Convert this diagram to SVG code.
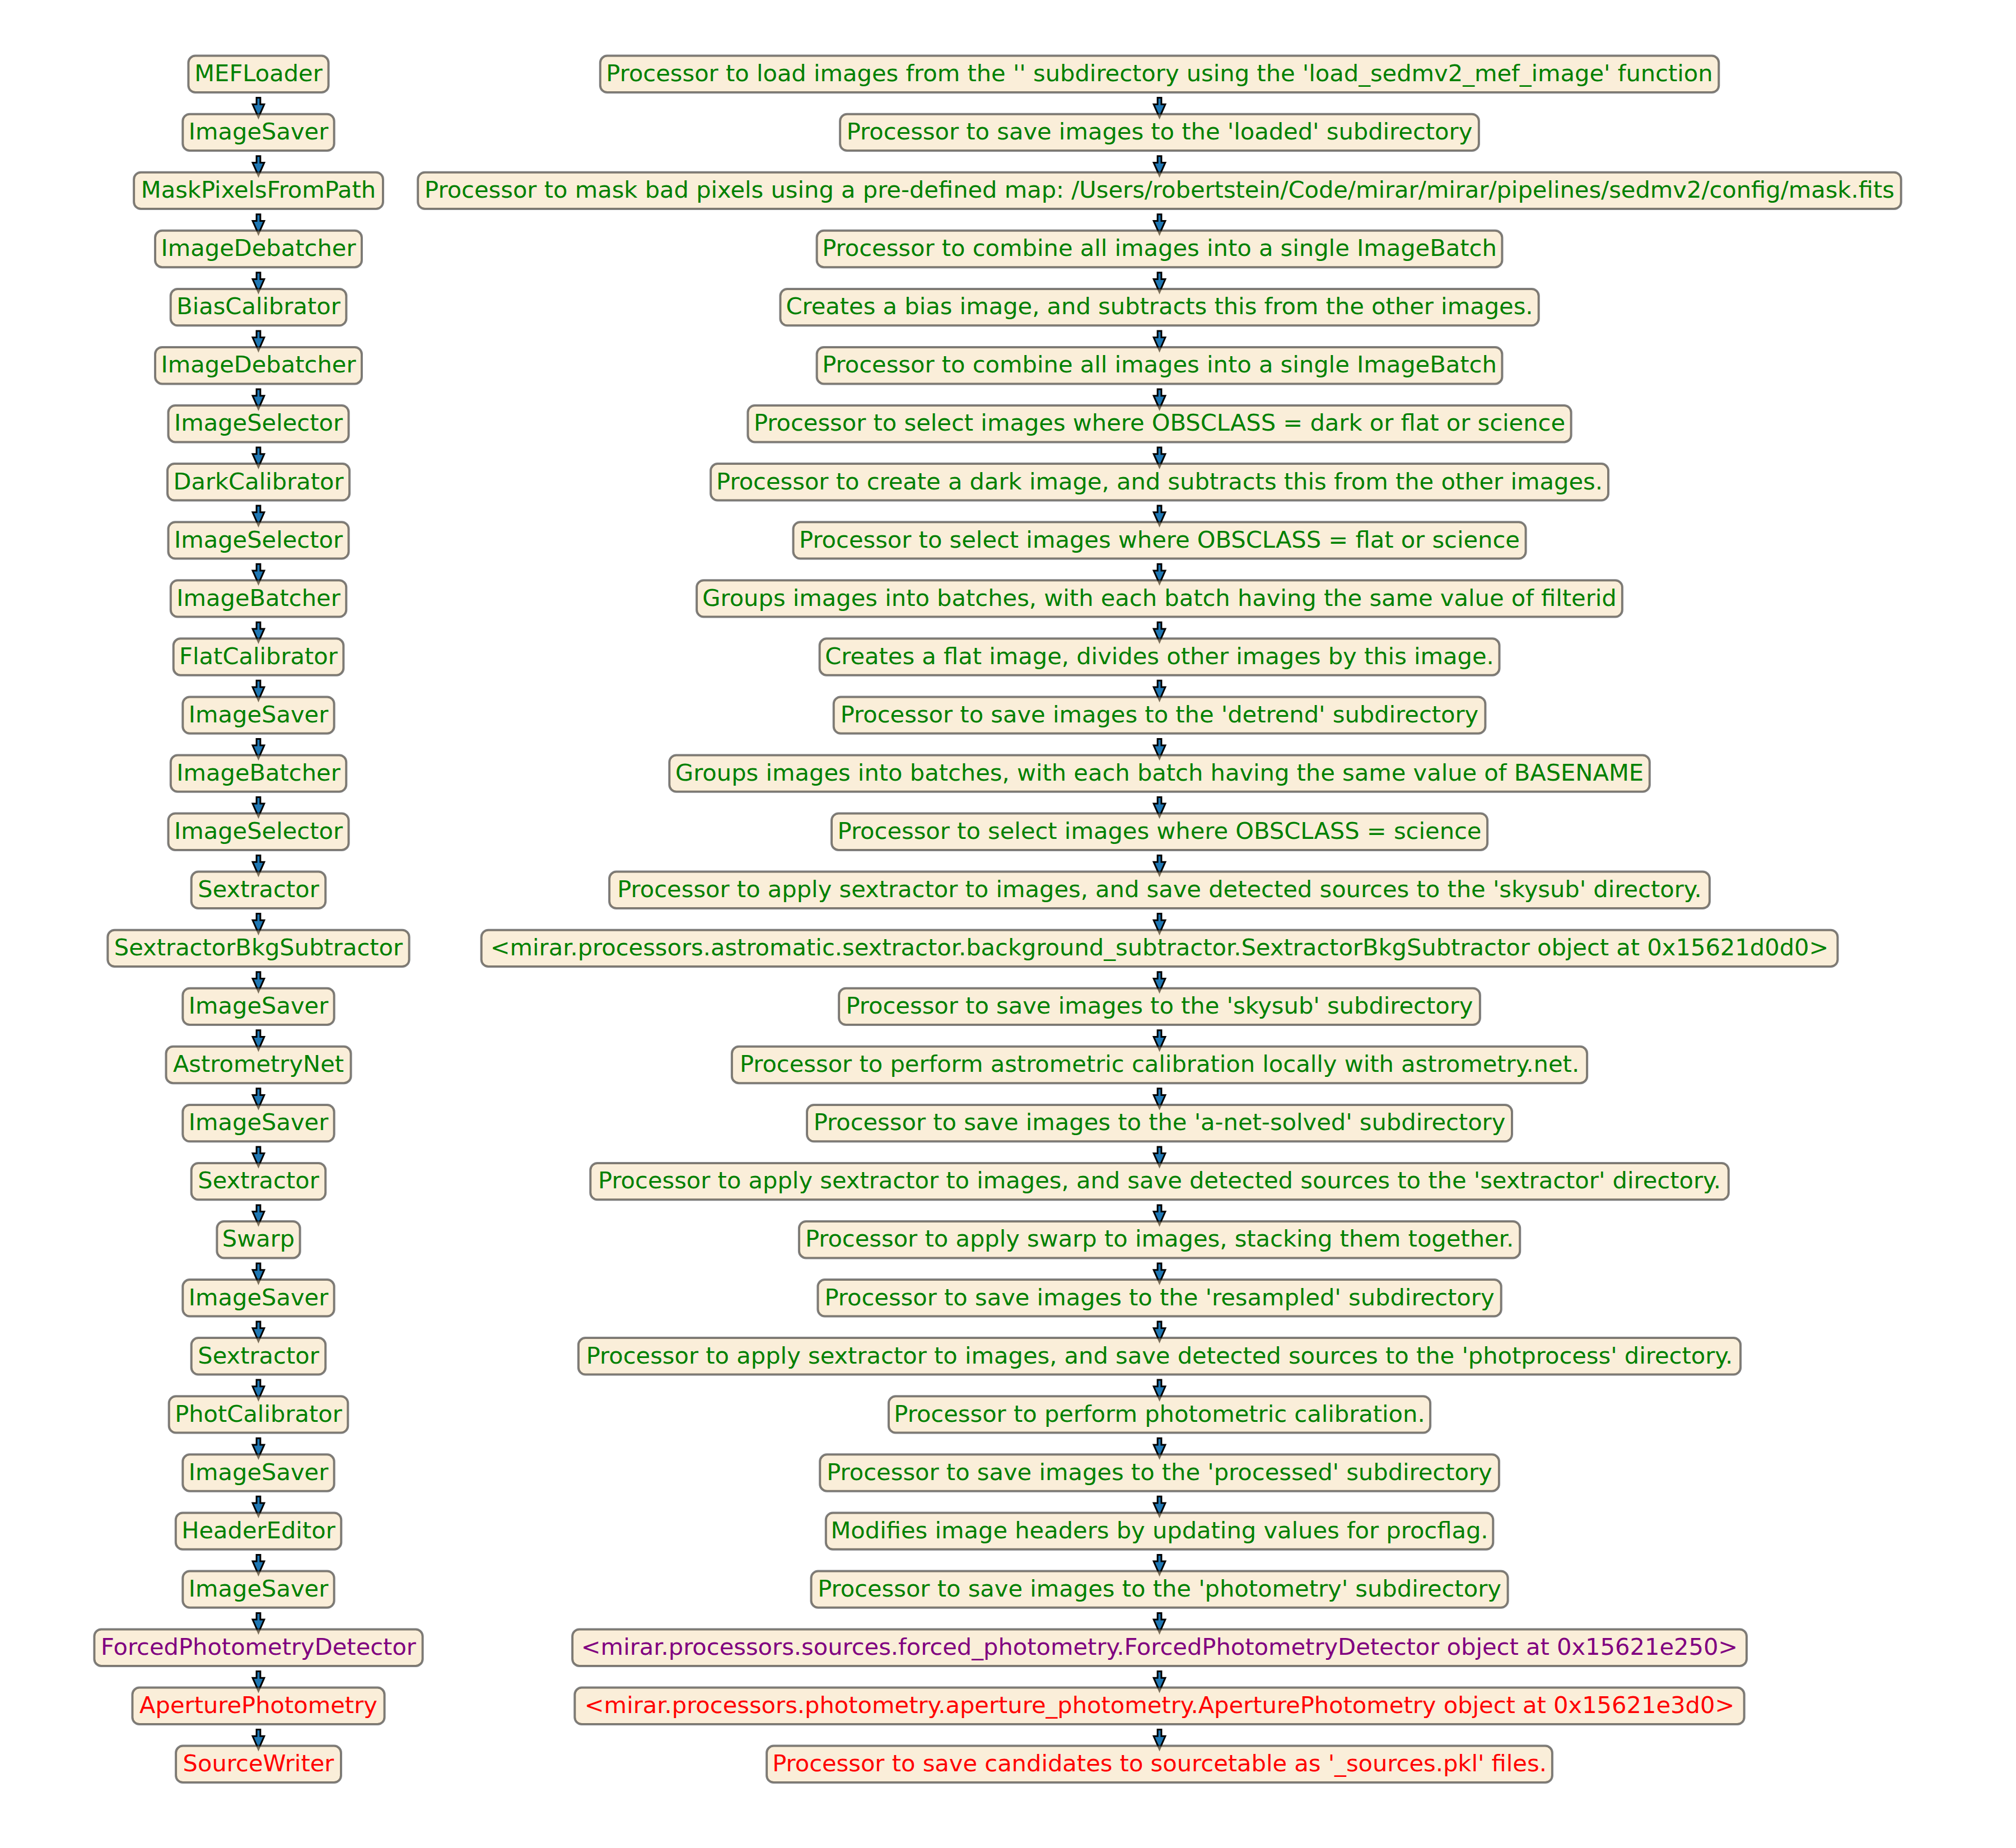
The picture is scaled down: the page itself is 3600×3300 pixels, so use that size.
<svg xmlns="http://www.w3.org/2000/svg" width="3600" height="3300" viewBox="0 0 3600 3300">
  <style>
    .box { fill: #f5deb3; fill-opacity: 0.5; stroke: #000000; stroke-opacity: 0.5; stroke-width: 4; }
    .lbl { font-family: "DejaVu Sans", "Noto Sans", sans-serif; font-size: 41.6px; text-anchor: middle; }
    .g { fill: #008000; }
    .p { fill: #800080; }
    .r { fill: #ff0000; }
    .arr { fill: #1f77b4; stroke: #000000; stroke-width: 3; stroke-linejoin: miter; }
  </style>
  <defs>
    <!-- downward block arrow, origin at the centre of the upper box -->
    <path id="arr" class="arr" d="M -3.4 42.3 L 3.4 42.3 L 3.4 54 L 10.4 54 L 0 77.5 L -10.4 54 L -3.4 54 Z"/>
  </defs>
  <rect width="3600" height="3300" fill="#ffffff"/>

  <!-- step connectors: class column (x=461.5) and description column (x=2070.5) -->
  <g id="connectors">
    <use href="#arr" x="461.5" y="132.3"/><use href="#arr" x="2070.5" y="132.3"/>
    <use href="#arr" x="461.5" y="236.4"/><use href="#arr" x="2070.5" y="236.4"/>
    <use href="#arr" x="461.5" y="340.4"/><use href="#arr" x="2070.5" y="340.4"/>
    <use href="#arr" x="461.5" y="444.5"/><use href="#arr" x="2070.5" y="444.5"/>
    <use href="#arr" x="461.5" y="548.6"/><use href="#arr" x="2070.5" y="548.6"/>
    <use href="#arr" x="461.5" y="652.7"/><use href="#arr" x="2070.5" y="652.7"/>
    <use href="#arr" x="461.5" y="756.7"/><use href="#arr" x="2070.5" y="756.7"/>
    <use href="#arr" x="461.5" y="860.8"/><use href="#arr" x="2070.5" y="860.8"/>
    <use href="#arr" x="461.5" y="964.9"/><use href="#arr" x="2070.5" y="964.9"/>
    <use href="#arr" x="461.5" y="1068.9"/><use href="#arr" x="2070.5" y="1068.9"/>
    <use href="#arr" x="461.5" y="1173.0"/><use href="#arr" x="2070.5" y="1173.0"/>
    <use href="#arr" x="461.5" y="1277.1"/><use href="#arr" x="2070.5" y="1277.1"/>
    <use href="#arr" x="461.5" y="1381.1"/><use href="#arr" x="2070.5" y="1381.1"/>
    <use href="#arr" x="461.5" y="1485.2"/><use href="#arr" x="2070.5" y="1485.2"/>
    <use href="#arr" x="461.5" y="1589.3"/><use href="#arr" x="2070.5" y="1589.3"/>
    <use href="#arr" x="461.5" y="1693.4"/><use href="#arr" x="2070.5" y="1693.4"/>
    <use href="#arr" x="461.5" y="1797.4"/><use href="#arr" x="2070.5" y="1797.4"/>
    <use href="#arr" x="461.5" y="1901.5"/><use href="#arr" x="2070.5" y="1901.5"/>
    <use href="#arr" x="461.5" y="2005.6"/><use href="#arr" x="2070.5" y="2005.6"/>
    <use href="#arr" x="461.5" y="2109.6"/><use href="#arr" x="2070.5" y="2109.6"/>
    <use href="#arr" x="461.5" y="2213.7"/><use href="#arr" x="2070.5" y="2213.7"/>
    <use href="#arr" x="461.5" y="2317.8"/><use href="#arr" x="2070.5" y="2317.8"/>
    <use href="#arr" x="461.5" y="2421.8"/><use href="#arr" x="2070.5" y="2421.8"/>
    <use href="#arr" x="461.5" y="2525.9"/><use href="#arr" x="2070.5" y="2525.9"/>
    <use href="#arr" x="461.5" y="2630.0"/><use href="#arr" x="2070.5" y="2630.0"/>
    <use href="#arr" x="461.5" y="2734.1"/><use href="#arr" x="2070.5" y="2734.1"/>
    <use href="#arr" x="461.5" y="2838.1"/><use href="#arr" x="2070.5" y="2838.1"/>
    <use href="#arr" x="461.5" y="2942.2"/><use href="#arr" x="2070.5" y="2942.2"/>
    <use href="#arr" x="461.5" y="3046.3"/><use href="#arr" x="2070.5" y="3046.3"/>
  </g>

  <!-- processor class names -->
  <g id="nodes-class">
    <g id="c01" transform="translate(0,132.3)"><rect class="box" x="336.4" y="-32.7" width="250.2" height="65.4" rx="12.5"/><text class="lbl g" x="461.5" y="12.7">MEFLoader</text></g>
    <g id="c02" transform="translate(0,236.4)"><rect class="box" x="326.3" y="-32.7" width="270.4" height="65.4" rx="12.5"/><text class="lbl g" x="461.5" y="12.7">ImageSaver</text></g>
    <g id="c03" transform="translate(0,340.4)"><rect class="box" x="239.1" y="-32.7" width="444.9" height="65.4" rx="12.5"/><text class="lbl g" x="461.5" y="12.7">MaskPixelsFromPath</text></g>
    <g id="c04" transform="translate(0,444.5)"><rect class="box" x="277.0" y="-32.7" width="369.0" height="65.4" rx="12.5"/><text class="lbl g" x="461.5" y="12.7">ImageDebatcher</text></g>
    <g id="c05" transform="translate(0,548.6)"><rect class="box" x="304.7" y="-32.7" width="313.7" height="65.4" rx="12.5"/><text class="lbl g" x="461.5" y="12.7">BiasCalibrator</text></g>
    <g id="c06" transform="translate(0,652.7)"><rect class="box" x="277.0" y="-32.7" width="369.0" height="65.4" rx="12.5"/><text class="lbl g" x="461.5" y="12.7">ImageDebatcher</text></g>
    <g id="c07" transform="translate(0,756.7)"><rect class="box" x="300.5" y="-32.7" width="322.1" height="65.4" rx="12.5"/><text class="lbl g" x="461.5" y="12.7">ImageSelector</text></g>
    <g id="c08" transform="translate(0,860.8)"><rect class="box" x="299.0" y="-32.7" width="325.1" height="65.4" rx="12.5"/><text class="lbl g" x="461.5" y="12.7">DarkCalibrator</text></g>
    <g id="c09" transform="translate(0,964.9)"><rect class="box" x="300.5" y="-32.7" width="322.1" height="65.4" rx="12.5"/><text class="lbl g" x="461.5" y="12.7">ImageSelector</text></g>
    <g id="c10" transform="translate(0,1068.9)"><rect class="box" x="304.8" y="-32.7" width="313.5" height="65.4" rx="12.5"/><text class="lbl g" x="461.5" y="12.7">ImageBatcher</text></g>
    <g id="c11" transform="translate(0,1173.0)"><rect class="box" x="309.7" y="-32.7" width="303.7" height="65.4" rx="12.5"/><text class="lbl g" x="461.5" y="12.7">FlatCalibrator</text></g>
    <g id="c12" transform="translate(0,1277.1)"><rect class="box" x="326.3" y="-32.7" width="270.4" height="65.4" rx="12.5"/><text class="lbl g" x="461.5" y="12.7">ImageSaver</text></g>
    <g id="c13" transform="translate(0,1381.1)"><rect class="box" x="304.8" y="-32.7" width="313.5" height="65.4" rx="12.5"/><text class="lbl g" x="461.5" y="12.7">ImageBatcher</text></g>
    <g id="c14" transform="translate(0,1485.2)"><rect class="box" x="300.5" y="-32.7" width="322.1" height="65.4" rx="12.5"/><text class="lbl g" x="461.5" y="12.7">ImageSelector</text></g>
    <g id="c15" transform="translate(0,1589.3)"><rect class="box" x="341.7" y="-32.7" width="239.6" height="65.4" rx="12.5"/><text class="lbl g" x="461.5" y="12.7">Sextractor</text></g>
    <g id="c16" transform="translate(0,1693.4)"><rect class="box" x="192.3" y="-32.7" width="538.4" height="65.4" rx="12.5"/><text class="lbl g" x="461.5" y="12.7">SextractorBkgSubtractor</text></g>
    <g id="c17" transform="translate(0,1797.4)"><rect class="box" x="326.3" y="-32.7" width="270.4" height="65.4" rx="12.5"/><text class="lbl g" x="461.5" y="12.7">ImageSaver</text></g>
    <g id="c18" transform="translate(0,1901.5)"><rect class="box" x="296.5" y="-32.7" width="330.1" height="65.4" rx="12.5"/><text class="lbl g" x="461.5" y="12.7">AstrometryNet</text></g>
    <g id="c19" transform="translate(0,2005.6)"><rect class="box" x="326.3" y="-32.7" width="270.4" height="65.4" rx="12.5"/><text class="lbl g" x="461.5" y="12.7">ImageSaver</text></g>
    <g id="c20" transform="translate(0,2109.6)"><rect class="box" x="341.7" y="-32.7" width="239.6" height="65.4" rx="12.5"/><text class="lbl g" x="461.5" y="12.7">Sextractor</text></g>
    <g id="c21" transform="translate(0,2213.7)"><rect class="box" x="387.4" y="-32.7" width="148.3" height="65.4" rx="12.5"/><text class="lbl g" x="461.5" y="12.7">Swarp</text></g>
    <g id="c22" transform="translate(0,2317.8)"><rect class="box" x="326.3" y="-32.7" width="270.4" height="65.4" rx="12.5"/><text class="lbl g" x="461.5" y="12.7">ImageSaver</text></g>
    <g id="c23" transform="translate(0,2421.8)"><rect class="box" x="341.7" y="-32.7" width="239.6" height="65.4" rx="12.5"/><text class="lbl g" x="461.5" y="12.7">Sextractor</text></g>
    <g id="c24" transform="translate(0,2525.9)"><rect class="box" x="301.7" y="-32.7" width="319.6" height="65.4" rx="12.5"/><text class="lbl g" x="461.5" y="12.7">PhotCalibrator</text></g>
    <g id="c25" transform="translate(0,2630.0)"><rect class="box" x="326.3" y="-32.7" width="270.4" height="65.4" rx="12.5"/><text class="lbl g" x="461.5" y="12.7">ImageSaver</text></g>
    <g id="c26" transform="translate(0,2734.1)"><rect class="box" x="313.8" y="-32.7" width="295.5" height="65.4" rx="12.5"/><text class="lbl g" x="461.5" y="12.7">HeaderEditor</text></g>
    <g id="c27" transform="translate(0,2838.1)"><rect class="box" x="326.3" y="-32.7" width="270.4" height="65.4" rx="12.5"/><text class="lbl g" x="461.5" y="12.7">ImageSaver</text></g>
    <g id="c28" transform="translate(0,2942.2)"><rect class="box" x="168.4" y="-32.7" width="586.3" height="65.4" rx="12.5"/><text class="lbl p" x="461.5" y="12.7">ForcedPhotometryDetector</text></g>
    <g id="c29" transform="translate(0,3046.3)"><rect class="box" x="236.4" y="-32.7" width="450.2" height="65.4" rx="12.5"/><text class="lbl r" x="461.5" y="12.7">AperturePhotometry</text></g>
    <g id="c30" transform="translate(0,3150.3)"><rect class="box" x="314.1" y="-32.7" width="294.9" height="65.4" rx="12.5"/><text class="lbl r" x="461.5" y="12.7">SourceWriter</text></g>
  </g>

  <!-- processor descriptions -->
  <g id="nodes-description">
    <g id="d01" transform="translate(0,132.3)"><rect class="box" x="1071.8" y="-32.7" width="1997.5" height="65.4" rx="12.5"/><text class="lbl g" x="2070.5" y="12.7">Processor to load images from the '' subdirectory using the 'load_sedmv2_mef_image' function</text></g>
    <g id="d02" transform="translate(0,236.4)"><rect class="box" x="1500.1" y="-32.7" width="1140.8" height="65.4" rx="12.5"/><text class="lbl g" x="2070.5" y="12.7">Processor to save images to the 'loaded' subdirectory</text></g>
    <g id="d03" transform="translate(0,340.4)"><rect class="box" x="746.2" y="-32.7" width="2648.6" height="65.4" rx="12.5"/><text class="lbl g" x="2070.5" y="12.7">Processor to mask bad pixels using a pre-defined map: /Users/robertstein/Code/mirar/mirar/pipelines/sedmv2/config/mask.fits</text></g>
    <g id="d04" transform="translate(0,444.5)"><rect class="box" x="1458.6" y="-32.7" width="1223.8" height="65.4" rx="12.5"/><text class="lbl g" x="2070.5" y="12.7">Processor to combine all images into a single ImageBatch</text></g>
    <g id="d05" transform="translate(0,548.6)"><rect class="box" x="1393.4" y="-32.7" width="1354.3" height="65.4" rx="12.5"/><text class="lbl g" x="2070.5" y="12.7">Creates a bias image, and subtracts this from the other images.</text></g>
    <g id="d06" transform="translate(0,652.7)"><rect class="box" x="1458.6" y="-32.7" width="1223.8" height="65.4" rx="12.5"/><text class="lbl g" x="2070.5" y="12.7">Processor to combine all images into a single ImageBatch</text></g>
    <g id="d07" transform="translate(0,756.7)"><rect class="box" x="1335.4" y="-32.7" width="1470.2" height="65.4" rx="12.5"/><text class="lbl g" x="2070.5" y="12.7">Processor to select images where OBSCLASS = dark or flat or science</text></g>
    <g id="d08" transform="translate(0,860.8)"><rect class="box" x="1269.1" y="-32.7" width="1602.9" height="65.4" rx="12.5"/><text class="lbl g" x="2070.5" y="12.7">Processor to create a dark image, and subtracts this from the other images.</text></g>
    <g id="d09" transform="translate(0,964.9)"><rect class="box" x="1416.5" y="-32.7" width="1308.1" height="65.4" rx="12.5"/><text class="lbl g" x="2070.5" y="12.7">Processor to select images where OBSCLASS = flat or science</text></g>
    <g id="d10" transform="translate(0,1068.9)"><rect class="box" x="1244.1" y="-32.7" width="1652.8" height="65.4" rx="12.5"/><text class="lbl g" x="2070.5" y="12.7">Groups images into batches, with each batch having the same value of filterid</text></g>
    <g id="d11" transform="translate(0,1173.0)"><rect class="box" x="1463.6" y="-32.7" width="1213.9" height="65.4" rx="12.5"/><text class="lbl g" x="2070.5" y="12.7">Creates a flat image, divides other images by this image.</text></g>
    <g id="d12" transform="translate(0,1277.1)"><rect class="box" x="1488.7" y="-32.7" width="1163.7" height="65.4" rx="12.5"/><text class="lbl g" x="2070.5" y="12.7">Processor to save images to the 'detrend' subdirectory</text></g>
    <g id="d13" transform="translate(0,1381.1)"><rect class="box" x="1195.3" y="-32.7" width="1750.5" height="65.4" rx="12.5"/><text class="lbl g" x="2070.5" y="12.7">Groups images into batches, with each batch having the same value of BASENAME</text></g>
    <g id="d14" transform="translate(0,1485.2)"><rect class="box" x="1485.0" y="-32.7" width="1171.1" height="65.4" rx="12.5"/><text class="lbl g" x="2070.5" y="12.7">Processor to select images where OBSCLASS = science</text></g>
    <g id="d15" transform="translate(0,1589.3)"><rect class="box" x="1088.1" y="-32.7" width="1964.8" height="65.4" rx="12.5"/><text class="lbl g" x="2070.5" y="12.7">Processor to apply sextractor to images, and save detected sources to the 'skysub' directory.</text></g>
    <g id="d16" transform="translate(0,1693.4)"><rect class="box" x="859.6" y="-32.7" width="2421.9" height="65.4" rx="12.5"/><text class="lbl g" x="2070.5" y="12.7">&lt;mirar.processors.astromatic.sextractor.background_subtractor.SextractorBkgSubtractor object at 0x15621d0d0&gt;</text></g>
    <g id="d17" transform="translate(0,1797.4)"><rect class="box" x="1498.1" y="-32.7" width="1144.8" height="65.4" rx="12.5"/><text class="lbl g" x="2070.5" y="12.7">Processor to save images to the 'skysub' subdirectory</text></g>
    <g id="d18" transform="translate(0,1901.5)"><rect class="box" x="1306.9" y="-32.7" width="1527.2" height="65.4" rx="12.5"/><text class="lbl g" x="2070.5" y="12.7">Processor to perform astrometric calibration locally with astrometry.net.</text></g>
    <g id="d19" transform="translate(0,2005.6)"><rect class="box" x="1441.0" y="-32.7" width="1259.0" height="65.4" rx="12.5"/><text class="lbl g" x="2070.5" y="12.7">Processor to save images to the 'a-net-solved' subdirectory</text></g>
    <g id="d20" transform="translate(0,2109.6)"><rect class="box" x="1054.3" y="-32.7" width="2032.5" height="65.4" rx="12.5"/><text class="lbl g" x="2070.5" y="12.7">Processor to apply sextractor to images, and save detected sources to the 'sextractor' directory.</text></g>
    <g id="d21" transform="translate(0,2213.7)"><rect class="box" x="1426.9" y="-32.7" width="1287.3" height="65.4" rx="12.5"/><text class="lbl g" x="2070.5" y="12.7">Processor to apply swarp to images, stacking them together.</text></g>
    <g id="d22" transform="translate(0,2317.8)"><rect class="box" x="1460.4" y="-32.7" width="1220.3" height="65.4" rx="12.5"/><text class="lbl g" x="2070.5" y="12.7">Processor to save images to the 'resampled' subdirectory</text></g>
    <g id="d23" transform="translate(0,2421.8)"><rect class="box" x="1032.9" y="-32.7" width="2075.2" height="65.4" rx="12.5"/><text class="lbl g" x="2070.5" y="12.7">Processor to apply sextractor to images, and save detected sources to the 'photprocess' directory.</text></g>
    <g id="d24" transform="translate(0,2525.9)"><rect class="box" x="1586.9" y="-32.7" width="967.2" height="65.4" rx="12.5"/><text class="lbl g" x="2070.5" y="12.7">Processor to perform photometric calibration.</text></g>
    <g id="d25" transform="translate(0,2630.0)"><rect class="box" x="1464.2" y="-32.7" width="1212.7" height="65.4" rx="12.5"/><text class="lbl g" x="2070.5" y="12.7">Processor to save images to the 'processed' subdirectory</text></g>
    <g id="d26" transform="translate(0,2734.1)"><rect class="box" x="1474.8" y="-32.7" width="1191.5" height="65.4" rx="12.5"/><text class="lbl g" x="2070.5" y="12.7">Modifies image headers by updating values for procflag.</text></g>
    <g id="d27" transform="translate(0,2838.1)"><rect class="box" x="1448.5" y="-32.7" width="1244.1" height="65.4" rx="12.5"/><text class="lbl g" x="2070.5" y="12.7">Processor to save images to the 'photometry' subdirectory</text></g>
    <g id="d28" transform="translate(0,2942.2)"><rect class="box" x="1022.1" y="-32.7" width="2096.9" height="65.4" rx="12.5"/><text class="lbl p" x="2070.5" y="12.7">&lt;mirar.processors.sources.forced_photometry.ForcedPhotometryDetector object at 0x15621e250&gt;</text></g>
    <g id="d29" transform="translate(0,3046.3)"><rect class="box" x="1026.3" y="-32.7" width="2088.4" height="65.4" rx="12.5"/><text class="lbl r" x="2070.5" y="12.7">&lt;mirar.processors.photometry.aperture_photometry.AperturePhotometry object at 0x15621e3d0&gt;</text></g>
    <g id="d30" transform="translate(0,3150.3)"><rect class="box" x="1369.1" y="-32.7" width="1402.8" height="65.4" rx="12.5"/><text class="lbl r" x="2070.5" y="12.7">Processor to save candidates to sourcetable as '_sources.pkl' files.</text></g>
  </g>
</svg>
